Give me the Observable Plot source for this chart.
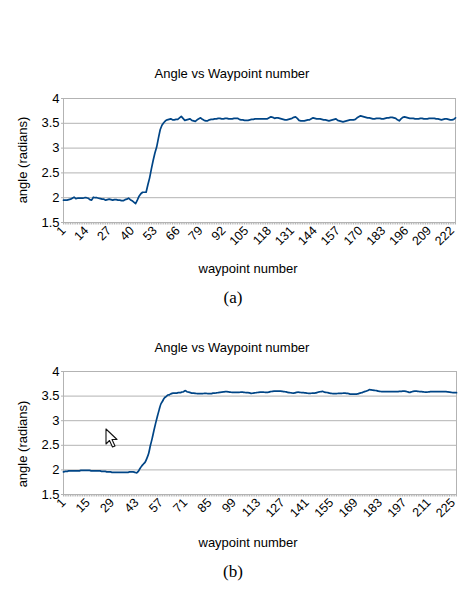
<!DOCTYPE html>
<html>
<head>
<meta charset="utf-8">
<script src="https://cdn.jsdelivr.net/npm/d3@7"></script>
<script src="https://cdn.jsdelivr.net/npm/@observablehq/plot@0.6"></script>
<style>
  body { margin: 0; background: #fff; }
  #page { position: relative; width: 468px; height: 589px; overflow: hidden;
          font-family: "Liberation Sans", Arial, sans-serif; color: #000; }
  .t { position: absolute; white-space: nowrap; transform: translate(-50%, -50%); line-height: 1; }
  .titulo { font-size: 13px; }
  .eixo { font-size: 13px; }
  .ylab { transform: translate(-50%, -50%) rotate(-90deg); }
  .pe { font-family: "Liberation Serif", "DejaVu Serif", serif; font-size: 17px; }
  .panel { position: absolute; left: 0; }
</style>
</head>
<body>
<div id="page"></div>
<script>
// Ángulo (radianes) por waypoint, leído do gráfico (a)
const angleA = [
  1.95,1.95,1.95,1.96,1.97,1.99,2.01,1.98,1.99,1.99,
  1.99,1.99,2.00,2.00,1.99,1.96,1.95,2.01,2.00,2.00,
  1.99,1.98,1.97,1.97,1.95,1.96,1.97,1.96,1.95,1.96,
  1.96,1.95,1.95,1.94,1.94,1.96,1.97,1.99,1.96,1.94,
  1.91,1.88,1.95,2.03,2.08,2.11,2.11,2.11,2.26,2.40,
  2.58,2.75,2.90,3.02,3.20,3.37,3.46,3.51,3.55,3.57,
  3.58,3.59,3.57,3.57,3.58,3.58,3.61,3.64,3.60,3.56,
  3.57,3.58,3.59,3.56,3.55,3.54,3.57,3.59,3.61,3.58,
  3.56,3.55,3.55,3.57,3.58,3.58,3.59,3.59,3.60,3.60,
  3.59,3.59,3.60,3.60,3.59,3.59,3.59,3.60,3.60,3.60,
  3.58,3.57,3.57,3.56,3.56,3.56,3.57,3.58,3.58,3.59,
  3.59,3.59,3.59,3.59,3.59,3.59,3.59,3.61,3.63,3.62,
  3.60,3.61,3.61,3.60,3.59,3.58,3.57,3.57,3.58,3.59,
  3.60,3.62,3.63,3.60,3.56,3.55,3.55,3.55,3.56,3.57,
  3.57,3.59,3.61,3.60,3.59,3.59,3.59,3.58,3.57,3.57,
  3.56,3.55,3.56,3.57,3.58,3.59,3.56,3.55,3.54,3.53,
  3.54,3.55,3.56,3.57,3.57,3.57,3.58,3.61,3.63,3.65,
  3.64,3.63,3.62,3.61,3.61,3.60,3.59,3.59,3.60,3.60,
  3.60,3.59,3.59,3.60,3.61,3.61,3.62,3.62,3.61,3.60,
  3.57,3.55,3.59,3.62,3.63,3.62,3.61,3.60,3.60,3.60,
  3.59,3.59,3.59,3.60,3.60,3.59,3.59,3.59,3.60,3.60,
  3.60,3.60,3.59,3.59,3.58,3.57,3.58,3.59,3.59,3.58,3.57,3.57,3.58,3.61
];

// Ángulo (radianes) por waypoint, leído do gráfico (b)
const angleB = [
  1.96,1.97,1.97,1.98,1.98,1.98,1.98,1.98,1.98,1.98,
  1.99,1.99,1.99,1.99,1.99,1.99,1.98,1.98,1.98,1.98,
  1.98,1.98,1.97,1.97,1.97,1.96,1.96,1.96,1.95,1.95,
  1.95,1.95,1.95,1.95,1.95,1.95,1.95,1.95,1.96,1.96,
  1.96,1.95,1.94,1.97,2.03,2.08,2.12,2.16,2.24,2.34,
  2.50,2.64,2.80,2.95,3.09,3.22,3.34,3.40,3.46,3.49,
  3.52,3.53,3.55,3.56,3.56,3.56,3.57,3.57,3.58,3.59,
  3.61,3.59,3.58,3.57,3.56,3.56,3.555,3.55,3.55,3.55,
  3.55,3.555,3.555,3.55,3.55,3.55,3.56,3.56,3.565,3.57,
  3.575,3.58,3.585,3.59,3.59,3.585,3.58,3.575,3.575,3.575,
  3.575,3.575,3.58,3.58,3.575,3.57,3.57,3.565,3.555,3.56,
  3.565,3.57,3.575,3.58,3.58,3.58,3.575,3.575,3.58,3.59,
  3.595,3.60,3.60,3.60,3.60,3.60,3.595,3.59,3.585,3.575,
  3.57,3.565,3.56,3.565,3.575,3.58,3.575,3.57,3.57,3.565,
  3.56,3.555,3.555,3.56,3.56,3.565,3.575,3.585,3.59,3.595,
  3.58,3.575,3.57,3.56,3.555,3.55,3.55,3.55,3.555,3.555,
  3.555,3.56,3.56,3.555,3.55,3.54,3.54,3.54,3.54,3.545,
  3.555,3.565,3.575,3.59,3.60,3.615,3.63,3.625,3.62,3.615,
  3.61,3.60,3.595,3.59,3.59,3.59,3.59,3.59,3.59,3.59,
  3.59,3.59,3.59,3.595,3.595,3.60,3.60,3.595,3.585,3.575,
  3.585,3.595,3.60,3.60,3.595,3.59,3.59,3.585,3.58,3.58,
  3.585,3.59,3.59,3.59,3.59,3.59,3.59,3.59,3.59,3.59,
  3.59,3.585,3.58,3.575,3.57,3.57,3.57
];

const ticksA = [1,14,27,40,53,66,79,92,105,118,131,144,157,170,183,196,209,222];
const ticksB = [1,15,29,43,57,71,85,99,113,127,141,155,169,183,197,211,225];
const ticksY = [1.5,2,2.5,3,3.5,4];

const TITULO = "Angle vs Waypoint number";
const ROT_Y = "angle (radians)";
const ROT_X = "waypoint number";

const page = document.getElementById("page");

function texto(str, cls, x, y) {
  const d = document.createElement("div");
  d.className = "t " + cls;
  d.textContent = str;
  d.style.left = x + "px";
  d.style.top = y + "px";
  page.appendChild(d);
}

function panel(valores, ticks, cfg) {
  const datos = valores.map((v, i) => ({ n: i + 1, v }));
  const N = datos.length;
  const alto = cfg.plotH + 20 + 30;
  const svg = Plot.plot({
    width: 468,
    height: alto,
    marginLeft: 63,
    marginRight: cfg.marginRight,
    marginTop: 20,
    marginBottom: 30,
    style: {
      background: "transparent",
      color: "#000",
      fontFamily: "'Liberation Sans', Arial, sans-serif",
      fontSize: "12.5px",
      overflow: "visible",
    },
    x: { domain: [1, N] },
    y: { domain: [1.5, 4] },
    marks: [
      Plot.gridY(ticksY, { stroke: "#b3b3b3", strokeOpacity: 1 }),
      Plot.frame({ stroke: "#b3b3b3" }),
      // marcas menores, unha por waypoint
      Plot.axisX(d3.range(1, N + 1), {
        tickSize: 2.5, stroke: "#b3b3b3", tickFormat: () => "", label: null,
      }),
      Plot.axisX(ticks, {
        tickSize: 0, tickPadding: 6, tickRotate: -45, label: null, fill: "#000",
        tickFormat: (d) => String(d),
      }),
      Plot.axisY(ticksY, {
        tickSize: 2, tickPadding: 2, label: null, fontSize: 13, fill: "#000", stroke: "#b3b3b3",
        tickFormat: (d) => String(d),
      }),
      Plot.line(datos, {
        x: "n", y: "v", stroke: "#004586", strokeWidth: 1.7, curve: cfg.curva,
      }),
    ],
  });
  const caixa = document.createElement("div");
  caixa.className = "panel";
  caixa.style.top = cfg.top + "px";
  caixa.appendChild(svg);
  page.appendChild(caixa);

  texto(TITULO, "titulo", 232, cfg.tituloY);
  texto(ROT_Y, "eixo ylab", 22, cfg.yLabY);
  texto(ROT_X, "eixo", 248, cfg.xLabY);
  texto(cfg.pe, "pe", 233, cfg.peY);
}

panel(angleA, ticksA, {
  top: 78, plotH: 124, marginRight: 13, curva: "linear",
  tituloY: 73, yLabY: 160, xLabY: 268, pe: "(a)", peY: 297,
});

panel(angleB, ticksB, {
  top: 351, plotH: 123, marginRight: 12, curva: "catmull-rom",
  tituloY: 347, yLabY: 444, xLabY: 542, pe: "(b)", peY: 571,
});

// punteiro do rato que aparece na captura (b)
const cursor = document.createElementNS("http://www.w3.org/2000/svg", "svg");
cursor.setAttribute("width", "14");
cursor.setAttribute("height", "21");
cursor.style.position = "absolute";
cursor.style.left = "105px";
cursor.style.top = "428px";
cursor.innerHTML = '<path d="M1 1 L1 16 L4.5 12.5 L7.5 19 L10 18 L7 11.5 L12 11.5 Z" fill="#fff" stroke="#111" stroke-width="1.1" stroke-linejoin="round"/>';
page.appendChild(cursor);
</script>
</body>
</html>
